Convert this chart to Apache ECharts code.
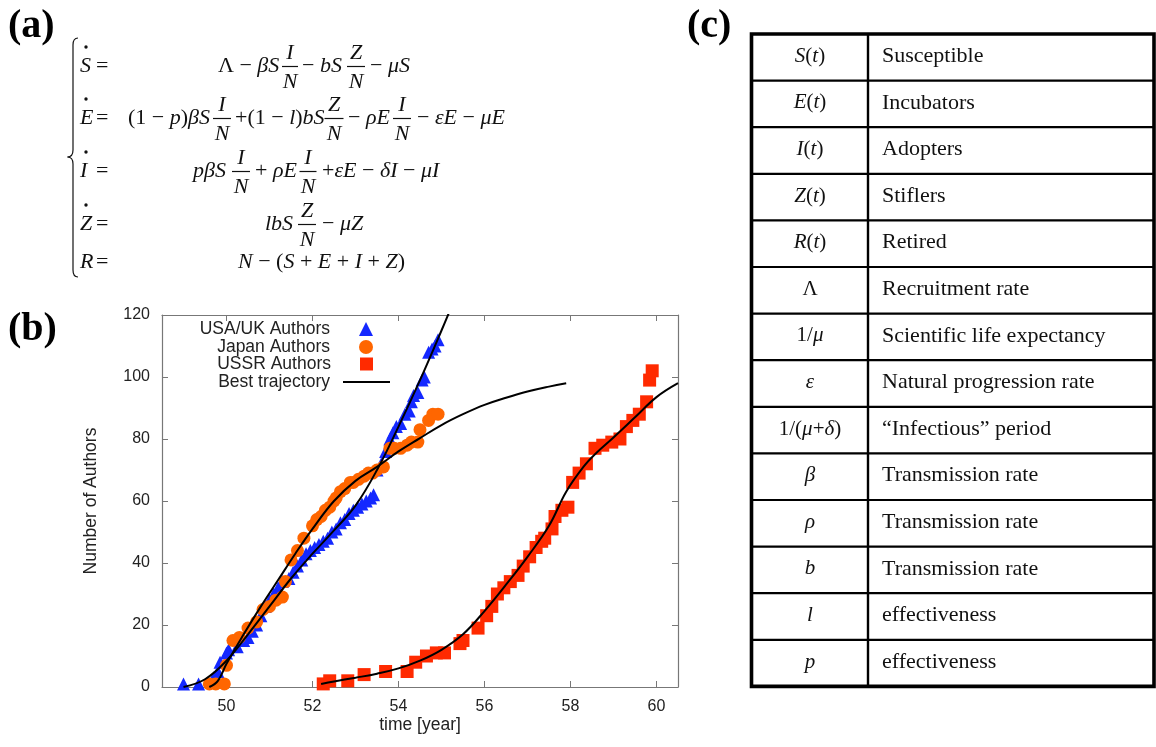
<!DOCTYPE html>
<html><head><meta charset="utf-8">
<script src="https://cdn.jsdelivr.net/npm/echarts@6/dist/echarts.min.js"></script>
<style>html,body{margin:0;padding:0;background:#fff}#main{width:1156px;height:747px}</style>
</head><body><div id="main"></div>
<script>
// ---------- data ----------
const xTicks = [50, 52, 54, 56, 58, 60];
const usaT = [49.0,49.35,49.7,49.8,49.85,50.0,50.05,50.25,50.4,50.5,50.6,50.7,50.8,50.9,51.0,51.1,51.2,51.3,51.45,51.55,51.65,51.75,51.85,51.95,52.05,52.15,52.25,52.35,52.45,52.55,52.65,52.75,52.85,52.95,53.05,53.15,53.25,53.35,53.42,53.5,53.6,53.7,53.8,53.87,53.95,54.05,54.15,54.25,54.3,54.35,54.45,54.55,54.6,54.7,54.78,54.85,54.92];
const usaN = [1,1,3,5,8,11,12,13,15,16,18,20,23,26,28,30,32,34,35,37,39,41,43,44,45,46,47,48,50,51,53,54,56,57,58,59,60,61,62,70,72,76,80,82,84,85,88,89,92,94,95,99,100,108,109,110,112];
const japanT = [49.6,49.75,49.95,50.0,50.15,50.3,50.5,50.7,50.85,51.0,51.15,51.3,51.37,51.5,51.65,51.8,52.0,52.1,52.2,52.3,52.4,52.5,52.55,52.65,52.75,52.88,52.95,53.07,53.2,53.3,53.4,53.5,53.65,53.8,53.9,54.05,54.2,54.3,54.45,54.5,54.7,54.8,54.92];
const japanN = [1,1,1,7,15,16,19,21,25,26,28,29,34,41,44,48,52,54,55,57,58,60,61,63,64,66,66,67,68,69,69,70,71,77,77,77,78,79,79,83,86,88,88];
const ussrT = [52.25,52.4,52.82,53.2,53.7,54.2,54.4,54.65,54.88,55.07,55.43,55.5,55.85,56.05,56.17,56.3,56.45,56.6,56.78,56.9,57.05,57.2,57.33,57.4,57.57,57.64,57.8,57.94,58.05,58.2,58.37,58.57,58.75,58.96,59.15,59.3,59.45,59.6,59.77,59.84,59.9];
const ussrN = [1,2,2,4,5,5,8,10,11,11,14,15,19,23,26,30,32,34,36,39,42,45,47,48,51,55,57,58,66,69,72,77,78,79,80,84,86,88,92,99,102];
const usaFitT = [49.0,49.5,50.0,50.5,51.0,51.5,52.0,52.5,53.0,53.5,54.0,54.5,55.0,55.3];
const usaFitN = [0,2.5,8.5,17,26,35,43,50.5,58.5,70,84,99,115,125];
const japanFitT = [49.6,49.8,50.0,50.4,50.8,51.2,51.6,52.0,52.5,53.0,53.5,54.0,54.5,55.0,55.5,56.0,56.5,57.0,57.5,57.9];
const japanFitN = [0,2,7.5,17,26,34.5,43,51,60,66.5,71,76,80.3,84.5,88,91,93.3,95.3,96.9,98];
const ussrFitT = [52.2,52.5,53.0,53.5,54.0,54.5,55.0,55.5,56.0,56.5,57.0,57.5,57.9,58.3,58.6,59.0,59.5,60.0,60.5];
const ussrFitN = [1,1.8,3,4.3,6,8.5,12,17,24.5,33,42,52,63,71,75.5,80.5,87,93.5,98];

const tableSymbols = [
  [['S',1],['(',0],['t',1],[')',0]],
  [['E',1],['(',0],['t',1],[')',0]],
  [['I',1],['(',0],['t',1],[')',0]],
  [['Z',1],['(',0],['t',1],[')',0]],
  [['R',1],['(',0],['t',1],[')',0]],
  [['Λ',0]],
  [['1/',0],['μ',1]],
  [['ε',1]],
  [['1/(',0],['μ',1],['+',0],['δ',1],[')',0]],
  [['β',1]],
  [['ρ',1]],
  [['b',1]],
  [['l',1]],
  [['p',1]]
];
const tableNames = ['Susceptible','Incubators','Adopters','Stiflers','Retired','Recruitment rate','Scientific life expectancy','Natural progression rate','\u201cInfectious\u201d period','Transmission rate','Transmission rate','Transmission rate','effectiveness','effectiveness'];

// ---------- helpers ----------
const SANS = '"Liberation Sans", Arial, Helvetica, sans-serif';
const SERIF = '"Liberation Serif", "Times New Roman", serif';
const INK = '#111';
const zip = (a, b) => a.map((v, i) => [v, b[i]]);

function rt(segs) { return segs.map(s => '{' + (s[1] ? 'i' : 'r') + '|' + s[0] + '}').join(''); }
function mtext(x, y, segs, size, align) {
  return { type: 'text', x: x, y: y, silent: true, style: {
    text: rt(segs), align: align || 'left', verticalAlign: 'middle',
    textAlign: align || 'left', textVerticalAlign: 'middle',
    rich: {
      i: { fontFamily: SERIF, fontSize: size, fontStyle: 'italic', fill: INK },
      r: { fontFamily: SERIF, fontSize: size, fill: INK }
    } } };
}
const G = [];
const EQ = 22;
function frac(cx, cy, n, d, w) {
  G.push(mtext(cx, cy - 13, [[n, 1]], EQ, 'center'));
  G.push({ type: 'line', silent: true, shape: { x1: cx - w / 2, y1: cy + 0.5, x2: cx + w / 2, y2: cy + 0.5 }, style: { stroke: INK, lineWidth: 1.2 } });
  G.push(mtext(cx, cy + 16, [[d, 1]], EQ, 'center'));
}
function lhs(letter, cy, dot) {
  G.push(mtext(80, cy, [[letter, 1]], EQ));
  G.push(mtext(96, cy, [['=', 0]], EQ));
  if (dot) G.push({ type: 'circle', silent: true, shape: { cx: 86, cy: cy - 19, r: 1.7 }, style: { fill: INK } });
}
function seg(x1, y1, x2, y2) {
  G.push({ type: 'line', silent: true, shape: { x1, y1, x2, y2 }, style: { stroke: INK, lineWidth: 1.2 } });
}
function qcurve(x1, y1, cx, cy, x2, y2) {
  G.push({ type: 'bezierCurve', silent: true, shape: { x1, y1, cpx1: cx, cpy1: cy, x2, y2 }, style: { stroke: INK, lineWidth: 1.2, fill: 'none' } });
}

// panel labels
[['(a)', 8, 27], ['(b)', 8, 330], ['(c)', 687, 27]].forEach(p => {
  G.push({ type: 'text', x: p[1], y: p[2], silent: true, style: { text: p[0], fontFamily: SERIF, fontSize: 40, fontWeight: 'bold', fill: '#000', align: 'left', verticalAlign: 'middle', textAlign: 'left', textVerticalAlign: 'middle' } });
});

// brace
qcurve(78, 38, 73, 38, 73, 45);
seg(73, 45, 73, 150);
qcurve(73, 150, 73, 157, 67.5, 157);
qcurve(67.5, 157, 73, 157, 73, 164);
seg(73, 164, 73, 270);
qcurve(73, 270, 73, 277, 78, 277);

// equations
lhs('S', 66, true);
G.push(mtext(218, 66, [['Λ − ', 0], ['βS', 1]], EQ));
frac(290, 66, 'I', 'N', 16);
G.push(mtext(302, 66, [['− ', 0], ['bS', 1]], EQ));
frac(356, 66, 'Z', 'N', 18);
G.push(mtext(370, 66, [['− ', 0], ['μS', 1]], EQ));

lhs('E', 118, true);
G.push(mtext(128, 118, [['(1 − ', 0], ['p', 1], [')', 0], ['βS', 1]], EQ));
frac(222, 118, 'I', 'N', 18);
G.push(mtext(235, 118, [['+(1 − ', 0], ['l', 1], [')', 0], ['bS', 1]], EQ));
frac(334, 118, 'Z', 'N', 19);
G.push(mtext(348, 118, [['− ', 0], ['ρE', 1]], EQ));
frac(402, 118, 'I', 'N', 18);
G.push(mtext(417, 118, [['− ', 0], ['εE', 1], [' − ', 0], ['μE', 1]], EQ));

lhs('I', 171, true);
G.push(mtext(193, 171, [['pβS', 1]], EQ));
frac(241, 171, 'I', 'N', 18);
G.push(mtext(255, 171, [['+ ', 0], ['ρE', 1]], EQ));
frac(308, 171, 'I', 'N', 17);
G.push(mtext(322, 171, [['+', 0], ['εE', 1], [' − ', 0], ['δI', 1], [' − ', 0], ['μI', 1]], EQ));

lhs('Z', 224, true);
G.push(mtext(265, 224, [['lbS', 1]], EQ));
frac(307, 224, 'Z', 'N', 18);
G.push(mtext(322, 224, [['− ', 0], ['μZ', 1]], EQ));

lhs('R', 262, false);
G.push(mtext(238, 262, [['N', 1], [' − (', 0], ['S', 1], [' + ', 0], ['E', 1], [' + ', 0], ['I', 1], [' + ', 0], ['Z', 1], [')', 0]], EQ));

// table (c)
const TX0 = 751.5, TX1 = 1154, TXM = 868, TY0 = 34, RH = 46.6;
const TY1 = TY0 + RH * tableNames.length;
for (let i = 1; i < tableNames.length; i++) {
  G.push({ type: 'line', silent: true, shape: { x1: TX0, y1: TY0 + i * RH, x2: TX1, y2: TY0 + i * RH }, style: { stroke: '#000', lineWidth: 2.2 } });
}
G.push({ type: 'line', silent: true, shape: { x1: TXM, y1: TY0, x2: TXM, y2: TY1 }, style: { stroke: '#000', lineWidth: 2.4 } });
G.push({ type: 'rect', silent: true, shape: { x: TX0, y: TY0, width: TX1 - TX0, height: TY1 - TY0 }, style: { fill: 'none', stroke: '#000', lineWidth: 3.6 } });
tableNames.forEach((nm, i) => {
  const cy = TY0 + (i + 0.5) * RH - 1;
  G.push(mtext(810, cy, tableSymbols[i], 21, 'center'));
  G.push({ type: 'text', x: 882, y: cy, silent: true, style: { text: nm, fontFamily: SERIF, fontSize: 22, fill: INK, align: 'left', verticalAlign: 'middle', textAlign: 'left', textVerticalAlign: 'middle' } });
});

// ---------- chart ----------
const axisGray = '#777';
const labelStyle = { fontFamily: SANS, fontSize: 16, color: '#222' };
const legendBase = { orient: 'vertical', align: 'right', padding: 0, itemGap: 0, selectedMode: false };
const legendText = (pad) => ({ fontFamily: SANS, fontSize: 17.5, color: '#222', padding: [0, pad, 0, 0] });

const chart = echarts.init(document.getElementById('main'), null, { renderer: 'canvas' });
chart.setOption({
  animation: false,
  backgroundColor: '#fff',
  graphic: { elements: G },
  grid: { left: 162, right: 478, top: 315, bottom: 60, containLabel: false, outerBoundsMode: 'none' },
  legend: [
    Object.assign({}, legendBase, { data: ['USA/UK Authors'], right: 783, top: 320, itemWidth: 14, itemHeight: 14, textStyle: legendText(24) }),
    Object.assign({}, legendBase, { data: ['Japan Authors'], right: 783, top: 338, itemWidth: 14, itemHeight: 14, textStyle: legendText(24) }),
    Object.assign({}, legendBase, { data: ['USSR Authors'], right: 783, top: 355, itemWidth: 13, itemHeight: 13, textStyle: legendText(24) }),
    Object.assign({}, legendBase, { data: [{ name: 'Best trajectory', icon: 'rect' }], right: 766, top: 373, itemWidth: 47, itemHeight: 2, textStyle: legendText(8) })
  ],
  xAxis: [
    { type: 'value', min: 48.5, max: 60.5, position: 'bottom',
      name: 'time [year]', nameLocation: 'middle', nameGap: 29,
      nameTextStyle: { fontFamily: SANS, fontSize: 17.5, color: '#222' },
      axisLine: { show: true, onZero: false, lineStyle: { color: axisGray, width: 1.2 } },
      axisTick: { show: true, inside: true, length: 6, customValues: xTicks, lineStyle: { color: axisGray } },
      axisLabel: Object.assign({ show: true, customValues: xTicks, margin: 12 }, labelStyle),
      splitLine: { show: false } },
    { type: 'value', min: 48.5, max: 60.5, position: 'top',
      axisLine: { show: true, onZero: false, lineStyle: { color: axisGray, width: 1.2 } },
      axisTick: { show: true, inside: true, length: 6, customValues: xTicks, lineStyle: { color: axisGray } },
      axisLabel: { show: false }, splitLine: { show: false } }
  ],
  yAxis: [
    { type: 'value', min: 0, max: 120, interval: 20, position: 'left',
      name: 'Number of Authors', nameLocation: 'middle', nameGap: 62,
      nameTextStyle: { fontFamily: SANS, fontSize: 17.5, color: '#222' },
      axisLine: { show: true, onZero: false, lineStyle: { color: axisGray, width: 1.2 } },
      axisTick: { show: true, inside: true, length: 6, lineStyle: { color: axisGray } },
      axisLabel: Object.assign({ show: true, margin: 12 }, labelStyle),
      splitLine: { show: false } },
    { type: 'value', min: 0, max: 120, interval: 20, position: 'right',
      axisLine: { show: true, onZero: false, lineStyle: { color: axisGray, width: 1.2 } },
      axisTick: { show: true, inside: true, length: 6, lineStyle: { color: axisGray } },
      axisLabel: { show: false }, splitLine: { show: false } }
  ],
  series: [
    { name: 'USA/UK Authors', type: 'scatter', symbol: 'triangle', symbolSize: 13,
      itemStyle: { color: '#1428ff', opacity: 1 }, data: zip(usaT, usaN) },
    { name: 'Japan Authors', type: 'scatter', symbol: 'circle', symbolSize: 13,
      itemStyle: { color: '#ff6600', opacity: 1 }, data: zip(japanT, japanN) },
    { name: 'USSR Authors', type: 'scatter', symbol: 'rect', symbolSize: 13,
      itemStyle: { color: '#ff2a00', opacity: 1 }, data: zip(ussrT, ussrN) },
    { name: 'Best trajectory', type: 'line', symbol: 'none', showSymbol: false, smooth: 0.4,
      lineStyle: { color: '#000', width: 2 }, itemStyle: { color: '#000' }, data: zip(usaFitT, usaFitN) },
    { name: 'Best trajectory', type: 'line', symbol: 'none', showSymbol: false, smooth: 0.4,
      lineStyle: { color: '#000', width: 2 }, itemStyle: { color: '#000' }, data: zip(japanFitT, japanFitN) },
    { name: 'Best trajectory', type: 'line', symbol: 'none', showSymbol: false, smooth: 0.4,
      lineStyle: { color: '#000', width: 2 }, itemStyle: { color: '#000' }, data: zip(ussrFitT, ussrFitN) }
  ]
});
</script></body></html>
